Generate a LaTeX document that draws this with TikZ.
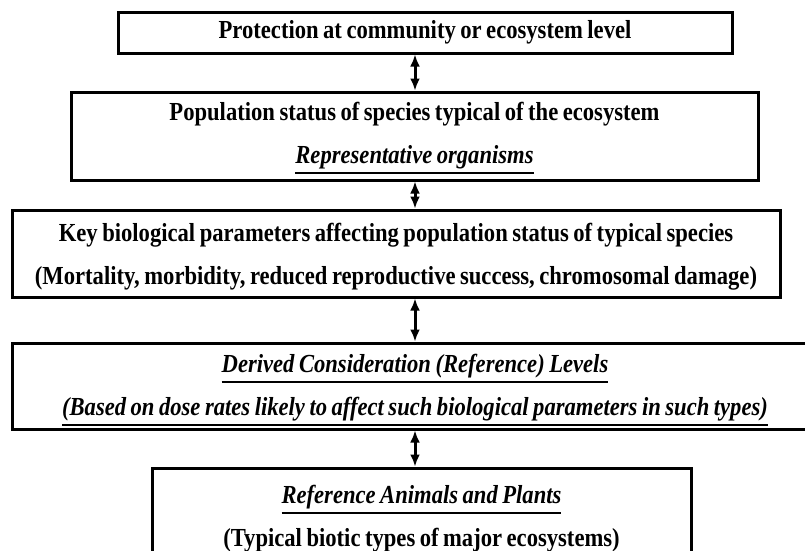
\documentclass[tikz,border=0pt]{standalone}
\usepackage{fontspec}
\newfontfamily\flowfont{Liberation Serif}[FakeStretch=0.87]
\usetikzlibrary{arrows.meta}
\newcommand{\undl}[1]{\leavevmode\setbox0=\hbox{#1}\vtop{\copy0\kern3pt\hrule height 2pt width \wd0}}

\begin{document}
\begin{tikzpicture}[x=1pt,y=-1pt,
  box/.style={draw, line width=3pt, fill=white, align=center, inner sep=0pt,
    font=\flowfont\bfseries\fontsize{26}{43}\selectfont,
    execute at begin node={\spaceskip=4.5pt\relax}},
  link/.style={{Latex[length=12pt,width=10pt]}-{Latex[length=12pt,width=10pt]}, line width=3pt}]

\useasboundingbox (0,0) rectangle (805,550);
\clip (0,0) rectangle (805,550);

\node [box, minimum width=614, minimum height=41, text width=600] (prot) at (425,32.5)
  {Protection at community or ecosystem level};
\node [box, minimum width=687, minimum height=88, text width=670, text height=22pt] (pop) at (414.5,136)
  {Population status of species typical of the ecosystem\\
   \undl{\itshape Representative organisms}};
\node [box, minimum width=768, minimum height=87, text width=760, text height=24pt] (key) at (396,253.5)
  {Key biological parameters affecting population status of typical species\\
   (Mortality, morbidity, reduced reproductive success, chromosomal damage)};
\node [box, minimum width=806, minimum height=86, text width=790, text height=27pt] (dcrl) at (415,386)
  {\undl{\itshape Derived Consideration (Reference) Levels}\\
   \undl{\itshape (Based on dose rates likely to affect such biological parameters in such types)}};
\node [box, minimum width=539, minimum height=94, text width=525, text height=26pt] (rap) at (421.5,515)
  {\undl{\itshape Reference Animals and Plants}\\
   (Typical biotic types of major ecosystems)};

\coordinate (ax) at (415,0);
\draw [link] (prot.south -| ax) -- (pop.north -| ax);
\draw [link] (pop.south -| ax) -- (key.north -| ax);
\draw [link] (key.south -| ax) -- (dcrl.north -| ax);
\draw [link] (dcrl.south -| ax) -- (rap.north -| ax);
\end{tikzpicture}
\end{document}
